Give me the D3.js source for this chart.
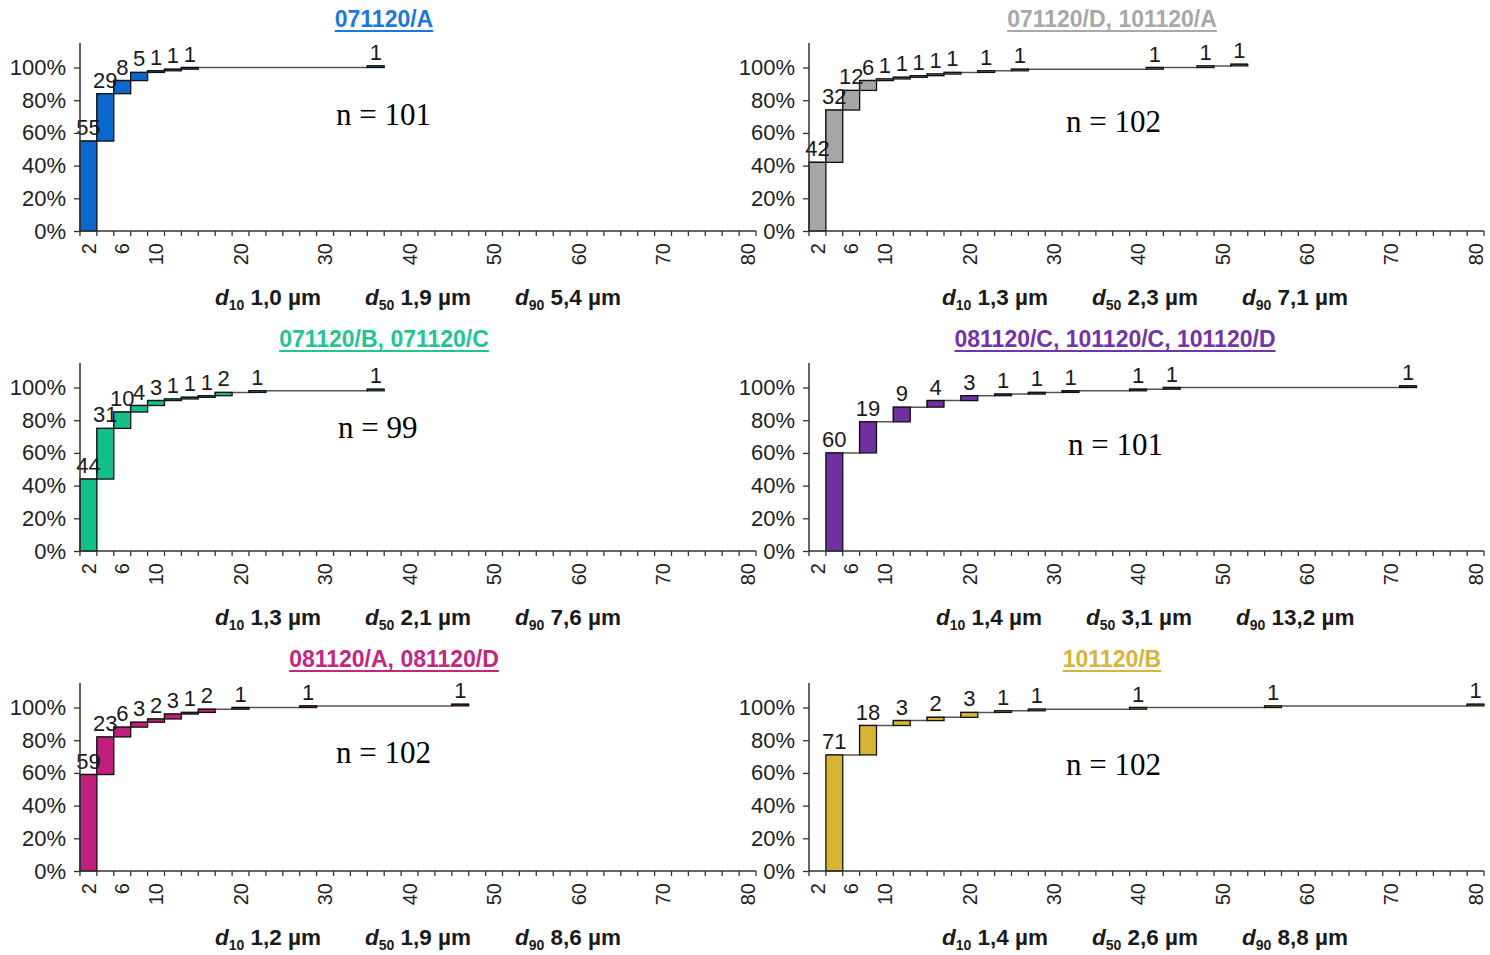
<!DOCTYPE html>
<html>
<head>
<meta charset="utf-8">
<script src="https://cdn.jsdelivr.net/npm/d3@7"></script>
<style>
  html, body { margin: 0; padding: 0; background: #fff; }
  svg { display: block; }
</style>
</head>
<body>
<svg id="chart" width="1490" height="955"></svg>
<script>
// Size classes (µm), one band per 2 µm class
const sizeClasses = [2,4,6,8,10,12,14,16,18,20,22,24,26,28,30,32,34,36,38,40,
                     42,44,46,48,50,52,54,56,58,60,62,64,66,68,70,72,74,76,78,80];
const shownTicks = [2, 6, 10, 20, 30, 40, 50, 60, 70, 80];
const yTicks = [0, 20, 40, 60, 80, 100];

// Sample groups
const titles = ["071120/A", "071120/D, 101120/A", "071120/B, 071120/C",
                "081120/C, 101120/C, 101120/D", "081120/A, 081120/D", "101120/B"];
const nValues = [101, 102, 99, 101, 102, 102];
const d10 = ["1,0", "1,3", "1,3", "1,4", "1,2", "1,4"];
const d50 = ["1,9", "2,3", "2,1", "3,1", "1,9", "2,6"];
const d90 = ["5,4", "7,1", "7,6", "13,2", "8,6", "8,8"];

// Particle counts per size class for each group
const sizesA   = [2, 4, 6, 8, 10, 12, 14, 36];
const countsA  = [55, 29, 8, 5, 1, 1, 1, 1];
const sizesDA  = [2, 4, 6, 8, 10, 12, 14, 16, 18, 22, 26, 42, 48, 52];
const countsDA = [42, 32, 12, 6, 1, 1, 1, 1, 1, 1, 1, 1, 1, 1];
const sizesBC  = [2, 4, 6, 8, 10, 12, 14, 16, 18, 22, 36];
const countsBC = [44, 31, 10, 4, 3, 1, 1, 1, 2, 1, 1];
const sizesCCD = [4, 8, 12, 16, 20, 24, 28, 32, 40, 44, 72];
const countsCCD= [60, 19, 9, 4, 3, 1, 1, 1, 1, 1, 1];
const sizesAD  = [2, 4, 6, 8, 10, 12, 14, 16, 20, 28, 46];
const countsAD = [59, 23, 6, 3, 2, 3, 1, 2, 1, 1, 1];
const sizesB   = [4, 8, 12, 16, 20, 24, 28, 40, 56, 80];
const countsB  = [71, 18, 3, 2, 3, 1, 1, 1, 1, 1];

const allSizes  = [sizesA, sizesDA, sizesBC, sizesCCD, sizesAD, sizesB];
const allCounts = [countsA, countsDA, countsBC, countsCCD, countsAD, countsB];

const fills       = ["#0a68cc", "#a6a6a6", "#14c08a", "#7030a0", "#c01f7e", "#d6b534"];
const titleColors = ["#1e78da", "#a8a8a8", "#22c592", "#7433a8", "#c4267f", "#d8b43a"];

// Panel placement
const layout = [
  { x0: 80,  x1: 756,  y0: 231, tx: 384,  ty: 27,  nx: 336,  ny: 125, dx: 215 },
  { x0: 809, x1: 1484, y0: 231, tx: 1112, ty: 27,  nx: 1066, ny: 132, dx: 942 },
  { x0: 80,  x1: 756,  y0: 551, tx: 384,  ty: 347, nx: 338,  ny: 438, dx: 215 },
  { x0: 809, x1: 1484, y0: 551, tx: 1115, ty: 347, nx: 1068, ny: 455, dx: 936 },
  { x0: 80,  x1: 756,  y0: 871, tx: 394,  ty: 667, nx: 336,  ny: 763, dx: 215 },
  { x0: 809, x1: 1484, y0: 871, tx: 1112, ty: 667, nx: 1066, ny: 775, dx: 942 }
];

const svg = d3.select("#chart");
const SANS = "'Liberation Sans', Arial, sans-serif";
const SERIF = "'Liberation Serif', 'Times New Roman', serif";
const axisColor = "#333";

layout.forEach((L, i) => {
  const g = svg.append("g");
  const x = d3.scaleBand().domain(sizeClasses).range([L.x0, L.x1]).padding(0);
  const y = d3.scaleLinear().domain([0, 115]).range([L.y0, L.y0 - 188]);
  const bw = x.bandwidth();

  // Cumulative counts (as % of 100 particles)
  let run = 0;
  const bars = allSizes[i].map((s, k) => {
    const prev = run;
    run += allCounts[i][k];
    return { size: s, count: allCounts[i][k], prev, cum: run };
  });

  // Step line across every class between the first and last occupied class
  const firstIdx = sizeClasses.indexOf(bars[0].size);
  const lastIdx = sizeClasses.indexOf(bars[bars.length - 1].size);
  const stepPts = [];
  let level = 0, bi = 0;
  for (let c = firstIdx; c <= lastIdx; c++) {
    if (bi < bars.length && bars[bi].size === sizeClasses[c]) { level = bars[bi].cum; bi++; }
    stepPts.push([x(sizeClasses[c]), level]);
  }
  stepPts.push([x(sizeClasses[lastIdx]) + bw, level]);
  g.append("path")
    .attr("d", d3.line().x(d => d[0]).y(d => y(d[1])).curve(d3.curveStepAfter)(stepPts))
    .attr("fill", "none").attr("stroke", "#555").attr("stroke-width", 1.5);

  // Floating bars: each spans previous to new cumulative level
  g.selectAll("rect.bar").data(bars).join("rect")
    .attr("class", "bar")
    .attr("x", d => x(d.size))
    .attr("width", bw)
    .attr("y", d => y(d.cum))
    .attr("height", d => y(d.prev) - y(d.cum))
    .attr("fill", fills[i])
    .attr("stroke", "#111")
    .attr("stroke-width", 1.3);

  // Count labels
  g.selectAll("text.cnt").data(bars).join("text")
    .attr("class", "cnt")
    .attr("x", d => x(d.size) + bw / 2)
    .attr("y", d => y(d.cum) - 6)
    .attr("text-anchor", "middle")
    .attr("font-family", SANS).attr("font-size", 22).attr("fill", "#1a1a1a")
    .text(d => d.count);

  // Y axis
  const yAxis = g.append("g").attr("transform", `translate(${L.x0},0)`)
    .call(d3.axisLeft(y).tickValues(yTicks).tickSize(6).tickPadding(8).tickFormat(d => d + "%"));
  yAxis.select(".domain").attr("d", `M0,${y(0)}V${y(115)}`)
    .attr("stroke", axisColor).attr("stroke-width", 1.5);
  yAxis.selectAll(".tick line").attr("stroke", axisColor).attr("stroke-width", 1.3);
  yAxis.selectAll(".tick text").attr("font-family", SANS).attr("font-size", 22)
    .attr("fill", "#222");

  // X axis: tick marks on class boundaries
  const xAxisG = g.append("g");
  xAxisG.append("line")
    .attr("x1", L.x0).attr("x2", L.x1).attr("y1", L.y0).attr("y2", L.y0)
    .attr("stroke", axisColor).attr("stroke-width", 1.5);
  const bounds = sizeClasses.map(s => x(s)).concat([L.x1]);
  xAxisG.selectAll("line.tk").data(bounds).join("line")
    .attr("class", "tk")
    .attr("x1", d => d).attr("x2", d => d)
    .attr("y1", L.y0).attr("y2", L.y0 + 5)
    .attr("stroke", axisColor).attr("stroke-width", 1.3);
  xAxisG.selectAll("text.xl").data(shownTicks).join("text")
    .attr("class", "xl")
    .attr("transform", d => `translate(${x(d) + bw / 2},${L.y0 + 12}) rotate(-90)`)
    .attr("dy", "0.36em")
    .attr("text-anchor", "end")
    .attr("font-family", SANS).attr("font-size", 20).attr("fill", "#222")
    .text(d => d);

  // Title with underline
  const t = g.append("text")
    .attr("x", L.tx).attr("y", L.ty)
    .attr("text-anchor", "middle")
    .attr("font-family", SANS).attr("font-weight", "bold").attr("font-size", 23)
    .attr("fill", titleColors[i])
    .text(titles[i]);
  const tw = t.node().getComputedTextLength();
  g.append("line")
    .attr("x1", L.tx - tw / 2).attr("x2", L.tx + tw / 2)
    .attr("y1", L.ty + 4).attr("y2", L.ty + 4)
    .attr("stroke", titleColors[i]).attr("stroke-width", 2);

  // Sample size
  g.append("text")
    .attr("x", L.nx).attr("y", L.ny)
    .attr("font-family", SERIF).attr("font-size", 31).attr("fill", "#000")
    .text("n = " + nValues[i]);

  // Characteristic diameters
  const dvals = [["10", d10[i]], ["50", d50[i]], ["90", d90[i]]];
  dvals.forEach((dv, k) => {
    const tx = g.append("text")
      .attr("x", L.dx + k * 150).attr("y", L.y0 + 74)
      .attr("font-family", SANS).attr("font-weight", "bold").attr("font-size", 22.5)
      .attr("fill", "#1a1a1a");
    tx.append("tspan").attr("font-style", "italic").text("d");
    tx.append("tspan").attr("font-size", 14).attr("dy", 5).text(dv[0]);
    tx.append("tspan").attr("dy", -5).text(" " + dv[1] + " µm");
  });
});
</script>
</body>
</html>
